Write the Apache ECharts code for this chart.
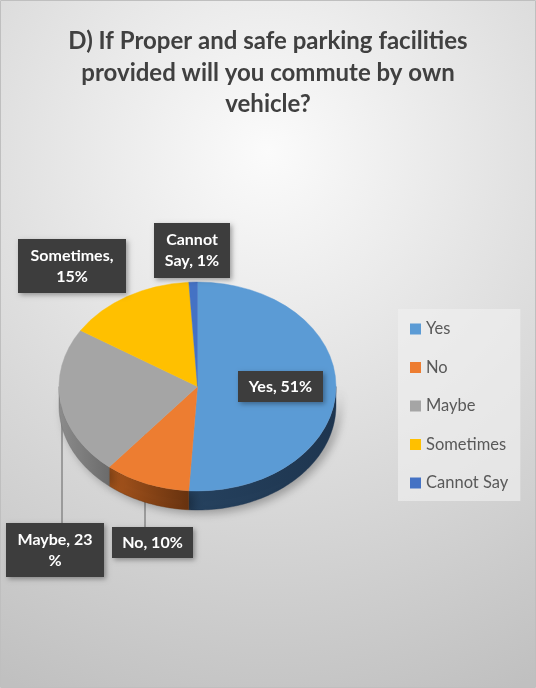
<!DOCTYPE html>
<html>
<head>
<meta charset="utf-8">
<script src="https://cdn.jsdelivr.net/npm/echarts@6/dist/echarts.min.js"></script>
<style>
  html, body { margin: 0; padding: 0; background: #ffffff; }
  #chart { width: 536px; height: 688px; }
</style>
</head>
<body>
<div id="chart"></div>
<script>
// Survey answers and their shares (percent)
const categories = ['Yes', 'No', 'Maybe', 'Sometimes', 'Cannot Say'];
const shares = [51, 10, 23, 15, 1];

// Label text layouts: {n} = category, {v} = share
const labelTemplates = ['{n}, {v}%', '{n}, {v}%', '{n}, {v}\n%', '{n},\n{v}%', '{n1}\n{n2}, {v}%'];

// Styling
const topColors = ['#5B9BD5', '#ED7D31', '#A5A5A5', '#FFC000', '#4472C4'];
const sideColors = [
  ['#26425f', '#1f3650'],
  ['#a9561d', '#683310'],
  ['#8e8e8e', '#6c6c6c'],
  ['#bf9000', '#8f6b00'],
  ['#33568f', '#26406b']
];

// Pie geometry (tilted ellipse with a visible rim)
const PIE = { cx: 197.5, cy: 386.5, rx: 138.5, ry: 104.5, depth: 19 };

// Label boxes: centre, width, vertical padding, line height; optional leader line x
const labelBoxes = [
  { x: 280.5, y: 386.5, w: 85, pad: 6, lh: 19 },
  { x: 152.5, y: 542.5, w: 81, pad: 6, lh: 19, lineX: 145 },
  { x: 55, y: 550, w: 98, pad: 6, lh: 21, lineX: 62 },
  { x: 72, y: 266, w: 108, pad: 6, lh: 21 },
  { x: 192, y: 250.5, w: 76, pad: 6, lh: 21.5 }
];

const total = shares.reduce((a, b) => a + b, 0);
let acc = 0;
const sliceRanges = shares.map(v => {
  const start = acc / total * 360;
  acc += v;
  return [start, acc / total * 360, v];
});

function labelText(i, v) {
  const name = categories[i];
  const parts = name.split(' ');
  return labelTemplates[i]
    .replace('{n1}', parts[0])
    .replace('{n2}', parts.slice(1).join(' '))
    .replace('{n}', name)
    .replace('{v}', v);
}

function ellipsePoint(t, dy) {
  return [PIE.cx + PIE.rx * Math.cos(t), PIE.cy + PIE.ry * Math.sin(t) + (dy || 0)];
}

function makeRenderer(i) {
  return function (params, api) {
    const a0 = api.value(0), a1 = api.value(1), v = api.value(2);
    // degrees clockwise from 12 o'clock -> canvas radians
    const t0 = a0 * Math.PI / 180 - Math.PI / 2;
    const t1 = a1 * Math.PI / 180 - Math.PI / 2;
    const children = [];

    // front rim of the slice
    const lo = Math.max(t0, 0), hi = Math.min(t1, Math.PI);
    if (lo < hi) {
      const pts = [];
      const steps = Math.max(4, Math.ceil((hi - lo) / 0.02));
      for (let k = 0; k <= steps; k++) pts.push(ellipsePoint(lo + (hi - lo) * k / steps, 0));
      for (let k = steps; k >= 0; k--) pts.push(ellipsePoint(lo + (hi - lo) * k / steps, PIE.depth));
      children.push({
        type: 'polygon',
        shape: { points: pts },
        z2: 5,
        style: {
          fill: {
            type: 'linear', x: 0, y: 0, x2: 1, y2: 0,
            colorStops: [{ offset: 0, color: sideColors[i][0] }, { offset: 1, color: sideColors[i][1] }]
          },
          stroke: sideColors[i][1],
          lineWidth: 0.4,
          shadowBlur: 10,
          shadowOffsetX: 4,
          shadowOffsetY: 3,
          shadowColor: 'rgba(0,0,0,0.3)'
        }
      });
    }

    // top face
    children.push({
      type: 'sector',
      x: PIE.cx,
      y: PIE.cy,
      scaleY: PIE.ry / PIE.rx,
      shape: { cx: 0, cy: 0, r0: 0, r: PIE.rx, startAngle: t0, endAngle: t1, clockwise: true },
      z2: 10,
      style: { fill: topColors[i], stroke: topColors[i], lineWidth: 0.5, strokeNoScale: true }
    });

    const box = labelBoxes[i];
    const text = labelText(i, v);
    const nLines = text.split('\n').length;
    const boxH = nLines * box.lh + box.pad * 2;

    if (box.lineX != null) {
      children.push({
        type: 'line',
        shape: { x1: box.lineX, y1: PIE.cy, x2: box.lineX, y2: box.y - boxH / 2 },
        z2: 1,
        style: { stroke: '#8c8c8c', lineWidth: 1.6 }
      });
    }

    children.push({
      type: 'text',
      z2: 100,
      style: {
        x: box.x,
        y: box.y,
        text: text,
        align: 'center',
        verticalAlign: 'middle',
        width: box.w,
        lineHeight: box.lh,
        padding: [box.pad, 0, box.pad, 0],
        fill: '#ffffff',
        font: 'bold 16px Lato',
        backgroundColor: '#3d3d3d',
        shadowBlur: 5,
        shadowOffsetX: 2,
        shadowOffsetY: 2,
        shadowColor: 'rgba(0,0,0,0.35)'
      }
    });

    return { type: 'group', children: children };
  };
}

const series = categories.map((name, i) => ({
  type: 'custom',
  name: name,
  coordinateSystem: 'none',
  itemStyle: { color: topColors[i] },
  renderItem: makeRenderer(i),
  data: [sliceRanges[i]],
  silent: true,
  animation: false
}));

const chart = echarts.init(document.getElementById('chart'), null, { renderer: 'canvas' });
chart.setOption({
  animation: false,
  graphic: [{
    type: 'rect',
    z: -10,
    shape: { x: 0.5, y: 0.5, width: 535, height: 687 },
    style: {
      fill: {
        type: 'radial', x: 0.5, y: 0.22, r: 1.1,
        colorStops: [{ offset: 0, color: '#fbfbfb' }, { offset: 1, color: '#c0c0c0' }]
      },
      stroke: '#bfbfbf',
      lineWidth: 1
    }
  }],
  title: {
    text: 'D) If Proper and safe parking facilities\nprovided will you commute by own\nvehicle?',
    left: 'center',
    top: 21,
    textStyle: {
      fontFamily: 'Lato',
      fontWeight: 'bold',
      fontSize: 24,
      lineHeight: 31.5,
      color: '#404040'
    }
  },
  legend: {
    orient: 'vertical',
    left: 398,
    top: 309,
    data: categories,
    icon: 'rect',
    itemWidth: 11,
    itemHeight: 11,
    itemGap: 20.5,
    padding: [11, 12, 9, 12],
    backgroundColor: 'rgba(240,240,240,0.65)',
    selectedMode: false,
    textStyle: { fontFamily: 'Lato', fontSize: 16.5, lineHeight: 18, color: '#595959' }
  },
  series: series
});
</script>
</body>
</html>
